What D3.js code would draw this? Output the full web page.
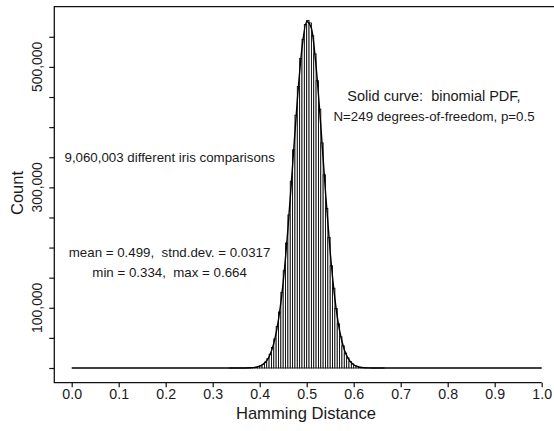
<html>
<head>
  <title>Hamming distance histogram</title>
  <script src="https://d3js.org/d3.v7.min.js"></script>
  <style>
    body { margin: 0; background: #fff; }
    text { font-family: "Liberation Sans", Arial, Helvetica, sans-serif; fill: #1a1a1a; white-space: pre; }
    .frame { stroke: #111; stroke-width: 1.3px; fill: none; }
    .bar { fill: #fff; stroke: #000; stroke-width: 0.85px; }
    .pdf { fill: none; stroke: #000; stroke-width: 1.4px; }
  </style>
</head>
<body>
  <svg id="chart" width="554" height="431"></svg>

  <script>
    // histogram of 9,060,003 iris comparisons, bins of 0.005 starting at 0.335
    const binStart = 0.335;
    const binWidth = 0.005;
    const histCounts = [
      1, 2, 4, 6, 16, 29, 65, 118, 236, 410,
      772, 1310, 2310, 3760, 6250, 9740, 15380, 22840, 34240, 48420,
      68950, 93020, 125800, 161700, 207600, 254300, 310200, 362500, 419800, 467600,
      514200, 545900, 570400, 577100, 573000, 551800, 521700, 477200, 429900, 373800,
      320900, 264900, 216700, 169900, 132500, 98800, 73300, 51900, 36800, 24700,
      16700, 10680, 6840, 4170, 2540, 1470, 858, 468, 262, 134,
      73, 35, 19, 8, 5, 2
    ];

    // solid curve (binomial PDF, N=249, p=0.5)
    const curveX = [0, 0.37, 0.38, 0.39, 0.40, 0.41, 0.42, 0.43, 0.44, 0.45, 0.46,
      0.47, 0.48, 0.49, 0.50, 0.51, 0.52, 0.53, 0.54, 0.55, 0.56,
      0.57, 0.58, 0.59, 0.60, 0.61, 0.62, 0.63, 0.64, 1.0];
    const curveY = [0, 87, 311, 1006, 2950, 7820, 18773, 40789, 80226, 142824, 230333,
      336223, 444251, 531355, 575400, 564079, 500606, 402172, 292526, 192590, 114849,
      61962, 30253, 13375, 5358, 1942, 636, 189, 51, 0];

    const xTicks = [0, 0.1, 0.2, 0.3, 0.4, 0.5, 0.6, 0.7, 0.8, 0.9, 1.0];
    const yTicks = [0, 50000, 100000, 150000, 200000, 250000, 300000, 350000, 400000, 450000, 500000, 550000];
    const yLabelled = [100000, 300000, 500000];

    const leftNotes = ["9,060,003 different iris comparisons"];
    const statNotes = ["mean = 0.499,  stnd.dev. = 0.0317", "min = 0.334,  max = 0.664"];
    const rightNotes = ["Solid curve:  binomial PDF,", "N=249 degrees-of-freedom, p=0.5"];

    const svg = d3.select("#chart");

    const frameLeft = 54.3, frameTop = 6.7, frameBottom = 382.7;

    const x = d3.scaleLinear().domain([0, 1]).range([71.7, 541.7]);
    const y = d3.scaleLinear().domain([0, 600000]).range([368, frameTop]);

    // histogram bars
    const bins = histCounts.map((c, i) => ({ x0: binStart + i * binWidth, x1: binStart + (i + 1) * binWidth, count: c }));
    svg.append("g").selectAll("rect").data(bins)
      .join("rect")
      .attr("class", "bar")
      .attr("x", d => x(d.x0))
      .attr("width", d => x(d.x1) - x(d.x0))
      .attr("y", d => y(d.count))
      .attr("height", d => y(0) - y(d.count));

    // binomial curve
    const line = d3.line()
      .x((d, i) => x(curveX[i]))
      .y(d => y(d))
      .curve(d3.curveMonotoneX);
    svg.append("path")
      .attr("class", "pdf")
      .attr("d", line(curveY));

    // frame: left, top, bottom
    svg.append("path")
      .attr("class", "frame")
      .attr("d", `M554,${frameTop}H${frameLeft}V${frameBottom}H${x(1)}`);

    // x axis
    const xAxis = svg.append("g")
      .attr("transform", `translate(0,${frameBottom})`)
      .call(d3.axisBottom(x).tickValues(xTicks).tickSize(4.5).tickPadding(1.5).tickFormat(d3.format(".1f")));
    xAxis.select(".domain").remove();
    xAxis.selectAll("line").attr("stroke", "#111").attr("stroke-width", 1.2);
    xAxis.selectAll("text")
      .style("font-size", "14.2px")
      .attr("fill", "#1a1a1a");

    // y axis
    const yAxis = svg.append("g")
      .attr("transform", `translate(${frameLeft},0)`)
      .call(d3.axisLeft(y).tickValues(yTicks).tickSize(5).tickFormat(""));
    yAxis.select(".domain").remove();
    yAxis.selectAll("line").attr("stroke", "#111").attr("stroke-width", 1.2);

    svg.append("g").selectAll("text").data(yLabelled)
      .join("text")
      .attr("transform", d => `translate(41.7,${y(d)}) rotate(-90)`)
      .attr("text-anchor", "middle")
      .style("font-size", "13.9px")
      .text(d3.format(","));

    // axis titles
    svg.append("text")
      .attr("x", 306)
      .attr("y", 419)
      .attr("text-anchor", "middle")
      .style("font-size", "16.6px")
      .text("Hamming Distance");

    svg.append("text")
      .attr("transform", `translate(23,193) rotate(-90)`)
      .attr("text-anchor", "middle")
      .style("font-size", "16.5px")
      .text("Count");

    // annotations
    svg.append("text")
      .attr("x", 169.7).attr("y", 161.5)
      .attr("text-anchor", "middle")
      .style("font-size", "13.3px")
      .text(leftNotes[0]);

    svg.append("g").selectAll("text").data(statNotes)
      .join("text")
      .attr("x", 169.6)
      .attr("y", (d, i) => 257 + i * 20.4)
      .attr("text-anchor", "middle")
      .style("font-size", "13.3px")
      .text(d => d);

    svg.append("g").selectAll("text").data(rightNotes)
      .join("text")
      .attr("x", 434)
      .attr("y", (d, i) => 100.5 + i * 20)
      .attr("text-anchor", "middle")
      .style("font-size", (d, i) => i === 0 ? "14.5px" : "13.3px")
      .text(d => d);
  </script>
</body>
</html>
